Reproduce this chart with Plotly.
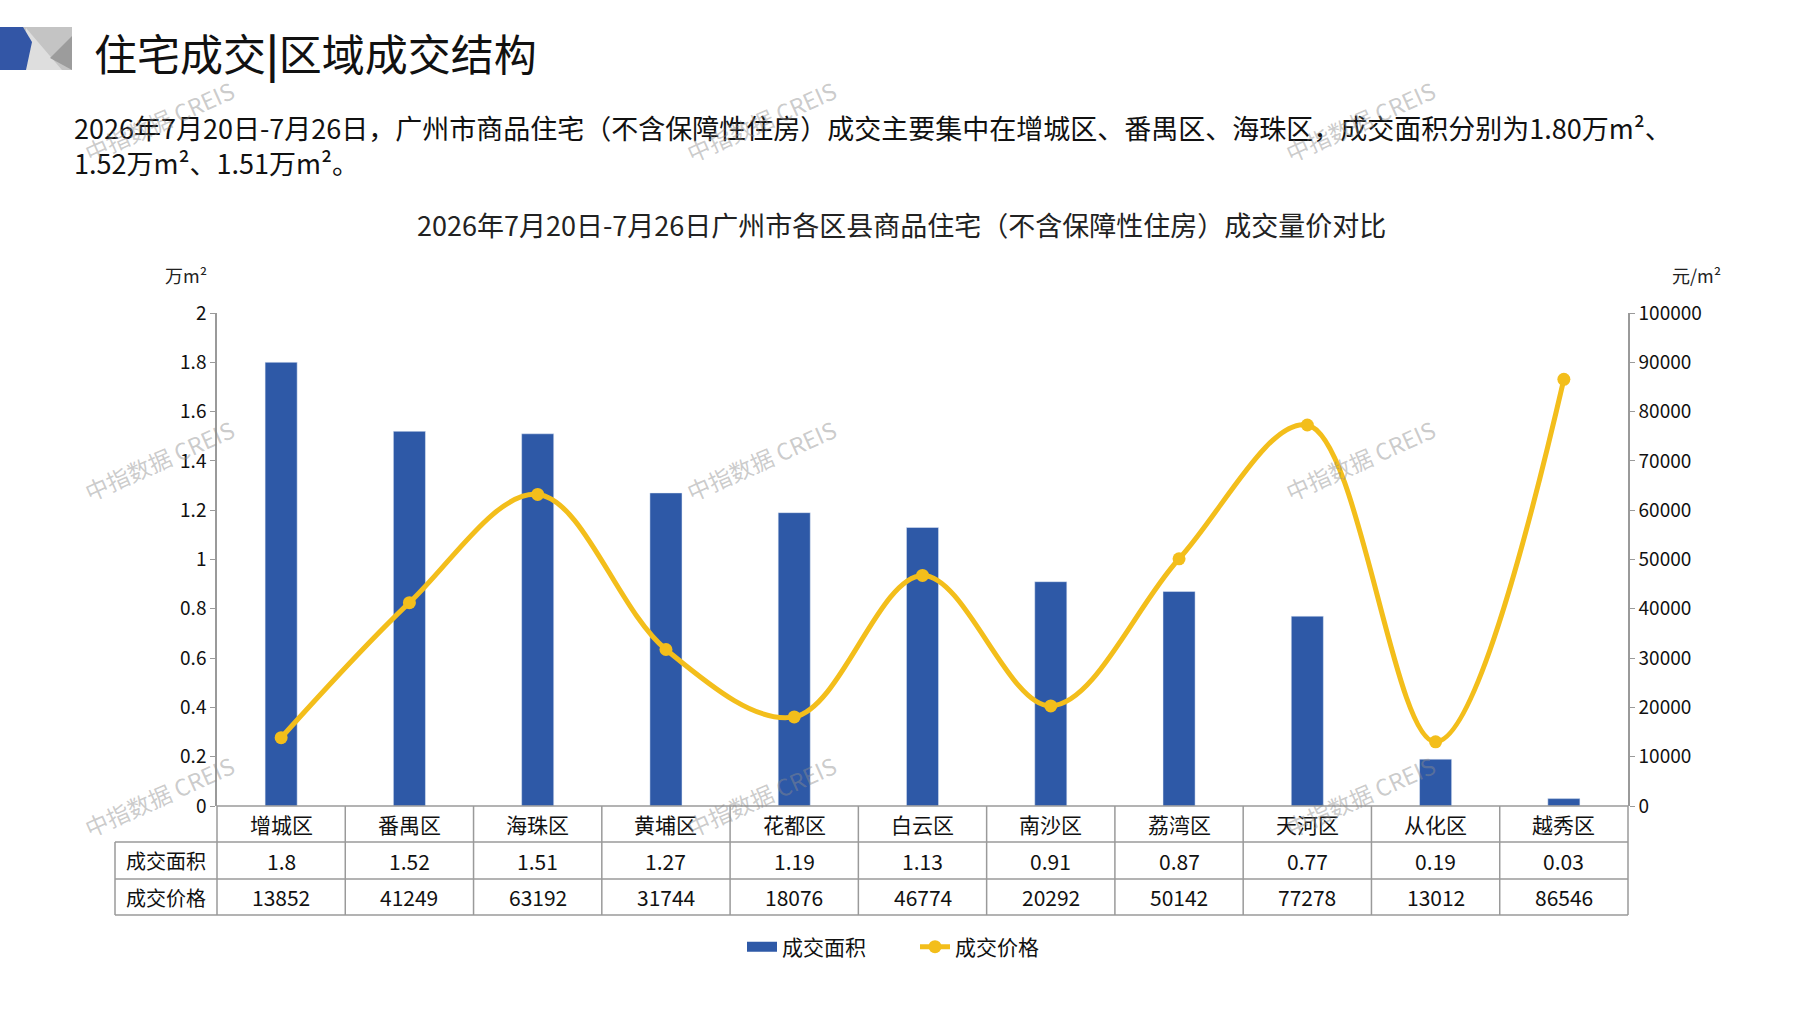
import plotly.graph_objects as go

# data
districts = ["增城区", "番禺区", "海珠区", "黄埔区", "花都区", "白云区",
             "南沙区", "荔湾区", "天河区", "从化区", "越秀区"]
area = [1.8, 1.52, 1.51, 1.27, 1.19, 1.13, 0.91, 0.87, 0.77, 0.19, 0.03]
price = [13852, 41249, 63192, 31744, 18076, 46774, 20292, 50142, 77278, 13012, 86546]
row_names = ["成交面积", "成交价格"]

title = "住宅成交<b>|</b>区域成交结构"
para1 = "2026年7月20日-7月26日，广州市商品住宅（不含保障性住房）成交主要集中在增城区、番禺区、海珠区，成交面积分别为1.80万m²、"
para2 = "1.52万m²、1.51万m²。"
chart_title = "2026年7月20日-7月26日广州市各区县商品住宅（不含保障性住房）成交量价对比"
watermark = "中指数据 CREIS"

FONT = "Noto Sans CJK SC"
BLUE = "#2E59A7"
GOLD = "#F3BE1B"
GRID = "#9A9A9A"

W, H = 1797, 1010
L, R, T, B = 217, 169, 313, 204
PW, PH = W - L - R, H - T - B


def px(x):
    return (x - L) / PW


def py(y):
    return (H - B - y) / PH


fig = go.Figure()
fig.add_trace(go.Bar(x=districts, y=area, name="成交面积", marker_color=BLUE, width=0.25,
                     showlegend=False))
# legend entry drawn as a wide block like the original
fig.add_trace(go.Scatter(x=[None], y=[None], name="成交面积", mode="lines",
                         line=dict(color=BLUE, width=14)))
fig.add_trace(go.Scatter(x=districts, y=price, name="成交价格", yaxis="y2",
                         mode="lines+markers",
                         line=dict(color=GOLD, width=5, shape="spline", smoothing=1),
                         marker=dict(color=GOLD, size=13)))

shapes = []
# logo
logo = [
    ("#C4C4C4", [(23, 27), (72, 27), (72, 70), (23, 70)]),
    ("#DEDEDE", [(26, 28), (62, 70), (26, 70)]),
    ("#9C9C9C", [(72, 36), (50, 58), (72, 70)]),
    ("#3356A6", [(0, 27), (23, 27), (32, 42), (26, 70), (0, 70)]),
]
for col, pts in logo:
    path = "M " + " L ".join(f"{px(a):.5f},{py(b):.5f}" for a, b in pts) + " Z"
    shapes.append(dict(type="path", path=path, xref="paper", yref="paper",
                       fillcolor=col, line=dict(width=0), layer="above"))

# table grid under the plot
n = len(districts)
row_y = [806, 842, 879, 915]
line = dict(color=GRID, width=1.5)
for i in range(n + 1):
    shapes.append(dict(type="line", xref="paper", yref="paper", x0=i / n, x1=i / n,
                       y0=py(row_y[0]), y1=py(row_y[-1]), line=line))
shapes.append(dict(type="line", xref="paper", yref="paper", x0=px(115), x1=px(115),
                   y0=py(row_y[1]), y1=py(row_y[-1]), line=line))
shapes.append(dict(type="line", xref="paper", yref="paper", x0=0, x1=1,
                   y0=py(row_y[0]), y1=py(row_y[0]), line=line))
for yy in row_y[1:]:
    shapes.append(dict(type="line", xref="paper", yref="paper", x0=px(115), x1=1,
                       y0=py(yy), y1=py(yy), line=line))

ann = []
ann.append(dict(text=title, x=px(92), y=py(52), xref="paper", yref="paper",
                xanchor="left", yanchor="middle", showarrow=False,
                font=dict(size=43, color="#111111")))
ann.append(dict(text=para1 + "<br>" + para2, x=px(72), y=py(145), xref="paper", yref="paper",
                xanchor="left", yanchor="middle", align="left", showarrow=False,
                font=dict(size=27, color="#111111")))
ann.append(dict(text=chart_title, x=px(901), y=py(225), xref="paper", yref="paper",
                xanchor="center", yanchor="middle", showarrow=False,
                font=dict(size=27, color="#222222")))
ann.append(dict(text="万m²", x=px(186), y=py(275), xref="paper", yref="paper",
                xanchor="center", yanchor="middle", showarrow=False,
                font=dict(size=18, color="#222222")))
ann.append(dict(text="元/m²", x=px(1696), y=py(275), xref="paper", yref="paper",
                xanchor="center", yanchor="middle", showarrow=False,
                font=dict(size=18, color="#222222")))

mids = [(row_y[i] + row_y[i + 1]) / 2 for i in range(3)]
for d, a, p in zip(districts, area, price):
    for txt, yy in ((d, mids[0]), (str(a), mids[1]), (str(p), mids[2])):
        ann.append(dict(text=txt, x=d, xref="x", y=py(yy), yref="paper",
                        xanchor="center", yanchor="middle", showarrow=False,
                        font=dict(size=21, color="#111111")))
for name, yy in zip(row_names, mids[1:]):
    ann.append(dict(text=name, x=px(166), y=py(yy), xref="paper", yref="paper",
                    xanchor="center", yanchor="middle", showarrow=False,
                    font=dict(size=20, color="#111111")))

for wx in (159, 761, 1360):
    for wy in (121, 460, 796):
        ann.append(dict(text=watermark, x=px(wx), y=py(wy), xref="paper", yref="paper",
                        xanchor="center", yanchor="middle", showarrow=False, textangle=-24,
                        font=dict(size=23, color="rgba(140,140,140,0.45)")))

axis_style = dict(showgrid=False, zeroline=False, showline=True, linecolor=GRID, linewidth=1.5,
                  ticks="outside", ticklen=5, tickcolor=GRID,
                  tickfont=dict(size=19, color="#111111"))

fig.update_layout(
    width=W, height=H,
    margin=dict(l=L, r=R, t=T, b=B),
    paper_bgcolor="white", plot_bgcolor="white",
    font=dict(family=FONT, color="#111111"),
    xaxis=dict(range=[-0.5, n - 0.5], showticklabels=False, showline=False,
               showgrid=False, zeroline=False, ticks=""),
    yaxis=dict(range=[0, 2], dtick=0.2, **axis_style),
    yaxis2=dict(range=[0, 100000], dtick=10000, tickformat="d", overlaying="y",
                side="right", **axis_style),
    legend=dict(orientation="h", x=px(742), y=py(947), xanchor="left", yanchor="middle",
                entrywidth=128, font=dict(size=21, color="#111111")),
    showlegend=True,
    shapes=shapes,
    annotations=ann,
)

fig.write_html("out.html", config={"displayModeBar": False},
               post_script="document.body.style.margin='0';")
